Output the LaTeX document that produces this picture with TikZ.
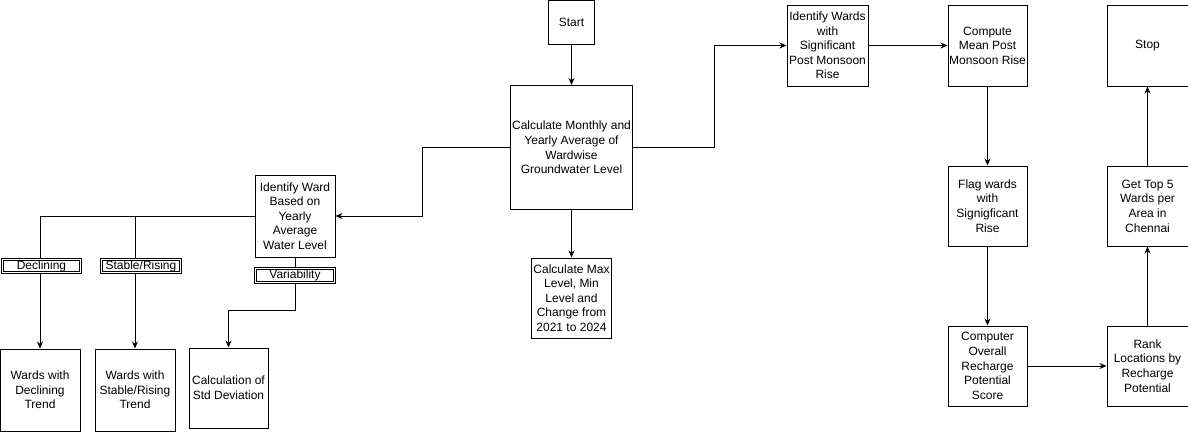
\documentclass[tikz,border=0pt]{standalone}
\usepackage{fontspec}
\setmainfont{Liberation Sans}
\usepackage{tikz}
\tikzset{
	box/.style={draw,line width=1pt,fill=white,align=center,inner sep=0pt,
		font=\fontsize{12}{14.6}\selectfont},
	tag/.style={draw,double,double distance=1pt,line width=1pt,fill=white,
		inner sep=0pt,minimum height=13pt,font=\fontsize{12}{12}\selectfont},
	flow/.style={line width=1pt,-{Stealth[length=7pt,width=6pt]}},
	wire/.style={line width=1pt}
}
\usetikzlibrary{arrows.meta}

\begin{document}
\begin{tikzpicture}[x=1pt,y=-1pt]
	\useasboundingbox (0,0) rectangle (1188,431);
	% middle column
	\node[box,minimum width=46pt,minimum height=44pt] (start) at (571.5,22) {Start};
	\node[box,minimum width=122pt,minimum height=124pt] (avg) at (571.5,147.5)
		{Calculate Monthly and\\Yearly Average of\\Wardwise\\Groundwater Level};
	\node[box,minimum width=80pt,minimum height=80pt] (maxmin) at (571.5,298)
		{Calculate Max\\Level, Min\\Level and\\Change from\\2021 to 2024};
	% left branch
	\node[box,minimum width=80pt,minimum height=82pt] (ward) at (295,216)
		{Identify Ward\\Based on\\Yearly\\Average\\Water Level};
	\node[box,minimum width=80pt,minimum height=82pt] (decl) at (40,390)
		{Wards with\\Declining\\Trend};
	\node[box,minimum width=80pt,minimum height=82pt] (stab) at (135,390)
		{Wards with\\Stable/Rising\\Trend};
	\node[box,minimum width=79pt,minimum height=80pt] (std) at (228.5,388)
		{Calculation of\\Std Deviation};
	% right branch
	\node[box,minimum width=81pt,minimum height=81pt] (sig) at (827.5,45.5)
		{Identify Wards\\with\\Significant\\Post Monsoon\\Rise};
	\node[box,minimum width=79pt,minimum height=81pt] (mean) at (987.5,45.5)
		{Compute\\Mean Post\\Monsoon Rise};
	\node[box,minimum width=79pt,minimum height=80pt] (flag) at (987.5,206)
		{Flag wards\\with\\Signigficant\\Rise};
	\node[box,minimum width=79pt,minimum height=80pt] (score) at (987.5,366)
		{Computer\\Overall\\Recharge\\Potential\\Score};
	\node[box,minimum width=81pt,minimum height=80pt] (rank) at (1147.5,366)
		{Rank\\Locations by\\Recharge\\Potential};
	\node[box,minimum width=81pt,minimum height=80pt] (top) at (1147.5,206)
		{Get Top 5\\Wards per\\Area in\\Chennai};
	\node[box,minimum width=81pt,minimum height=81pt] (stop) at (1147.5,45.5) {Stop};

	\draw[flow] (start) -- (avg);
	\draw[flow] (avg) -- (maxmin);
	\draw[flow] (avg.west) -- ++(-88,0) |- (ward.east);
	\draw[flow] (avg.east) -- ++(81,0) |- (sig.west);
	\draw[flow] (sig) -- (mean);
	\draw[flow] (mean) -- (flag);
	\draw[flow] (flag) -- (score);
	\draw[flow] (score) -- (rank);
	\draw[flow] (rank) -- (top);
	\draw[flow] (top) -- (stop);

	\draw[flow] (ward.west) -| (decl.north);
	\draw[flow] (ward.west) -| (stab.north);
	\draw[flow] (ward.south) -- ++(0,53) -| (std.north);
	\node[tag,minimum width=78pt] (ldecl) at (41.5,266) {Declining};
	\node[tag,minimum width=79pt] (lstab) at (141,266) {Stable/Rising};
	\node[tag,minimum width=79pt,minimum height=14pt] (lvar) at (295,275.5) {Variability};
\end{tikzpicture}
\end{document}
